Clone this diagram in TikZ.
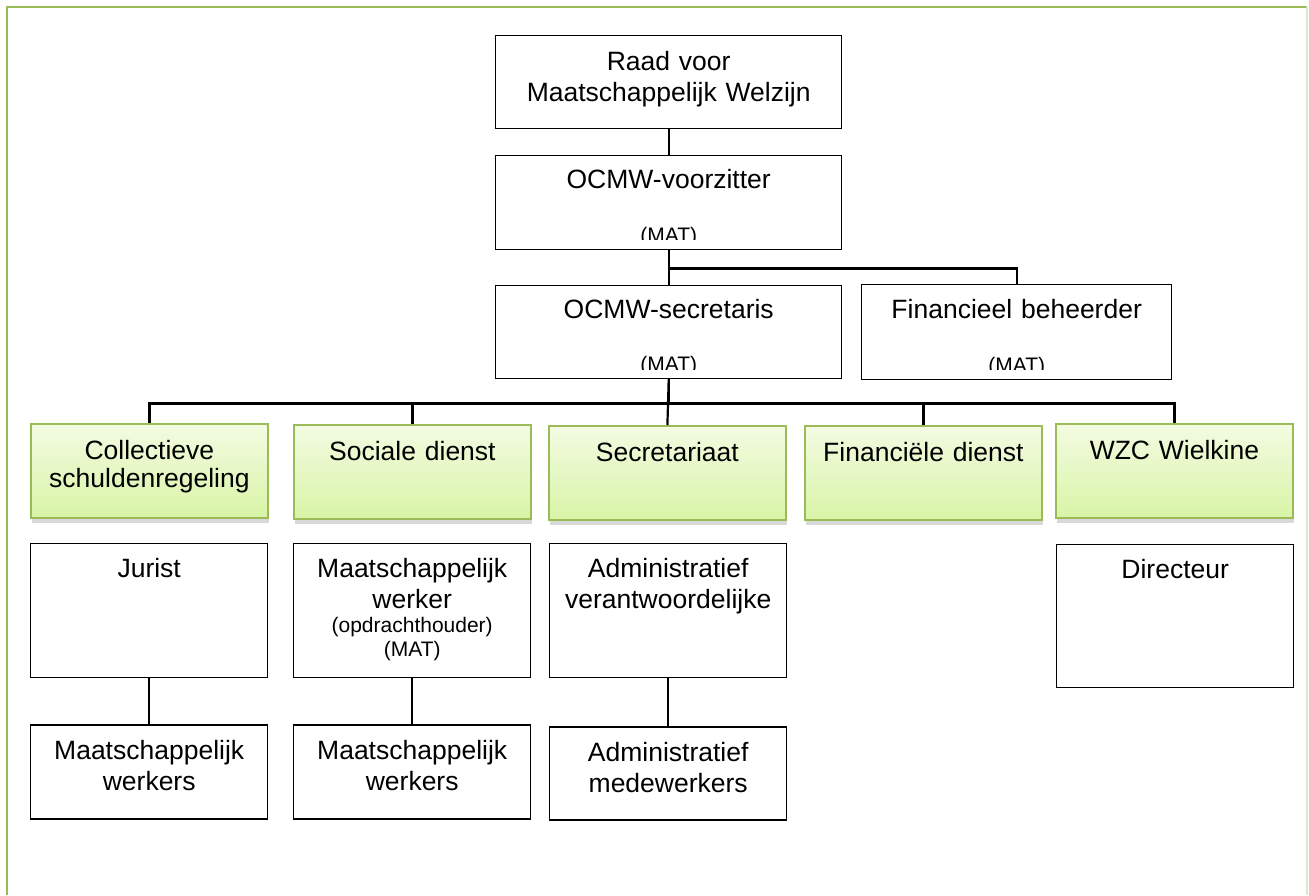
\documentclass[tikz,border=0pt]{standalone}
\usepackage{fontspec}
\setmainfont{Liberation Sans}
\usetikzlibrary{positioning,shadows}
\definecolor{frameGreen}{HTML}{9BBB59}
\definecolor{deptTop}{HTML}{F3FBE2}
\definecolor{deptBottom}{HTML}{D8F4A6}
\newcommand{\smalltext}{\fontsize{21}{24}\selectfont}

\begin{document}
\begin{tikzpicture}[x=1pt, y=-1pt, line width=2.2pt,
      every node/.append style={inner sep=0pt, align=center, font=\fontsize{26.5}{31}\selectfont},
      wide/.style={text width=346pt},
      narrow/.style={text width=237pt}]
  \tikzstyle{post} = [draw, line width=1.4pt, text height=34pt]
  \tikzstyle{dept} = [draw=frameGreen, line width=1.8pt, top color=deptTop, bottom color=deptBottom,
      text height=36pt, text depth=58pt, text width=237pt, anchor=north west,
      font=\fontsize{26.5}{28}\selectfont,
      drop shadow={shadow xshift=1pt, shadow yshift=-5pt, opacity=0.3}]
  \tikzstyle{mat} = [font=\smalltext, anchor=base]
  \tikzstyle{link} = [line width=2.2pt]
  \useasboundingbox (0,0) rectangle (1309,895);
  % frame
  \draw[frameGreen, line width=2.2pt] (7,895) -- (7,7) -- (1307,7);
  \draw[frameGreen!35, line width=1.5pt] (1307,7) -- (1307,895);
  % board
  \node (raad) [post, wide, text height=35pt, text depth=58pt, anchor=north west] at (495,35) {Raad voor\\Maatschappelijk Welzijn};
  \node (voorzitter) [post, wide, text height=33pt, text depth=61pt, anchor=north west] at (495,155) {OCMW-voorzitter};
  \node (secretaris) [post, wide, text height=33pt, text depth=60pt, anchor=north west] at (495,285) {OCMW-secretaris};
  \node (beheerder) [post, text width=310pt, text height=34pt, text depth=61pt, anchor=north west] at (861,284) {Financieel beheerder};
  \begin{scope}
    \clip ([yshift=11pt]voorzitter.south west) rectangle (voorzitter.north east);
    \node (voorzitterMat) [mat] at ([yshift=7.5pt]voorzitter.south) {(MAT)};
  \end{scope}
  \begin{scope}
    \clip ([yshift=10pt]secretaris.south west) rectangle (secretaris.north east);
    \node (secretarisMat) [mat] at ([yshift=7.5pt]secretaris.south) {(MAT)};
  \end{scope}
  \begin{scope}
    \clip ([yshift=10.5pt]beheerder.south west) rectangle (beheerder.north east);
    \node (beheerderMat) [mat] at ([yshift=7.5pt]beheerder.south) {(MAT)};
  \end{scope}
  % departments
  \node (collectief) [dept] at (30,423) {Collectieve\\schuldenregeling};
  \node (sociaal) [dept] at (293,424) {Sociale dienst};
  \node (secretariaat) [dept] at (548,425) {Secretariaat};
  \node (financieel) [dept] at (804,425) {Financiële dienst};
  \node (wzc) [dept] at (1055,423) {WZC Wielkine};
  % staff
  \node (jurist) [post, narrow, text depth=100pt, anchor=north west] at (30,543) {Jurist};
  \node (mwJurist) [post, narrow, text depth=60pt, below=46pt of jurist] {Maatschappelijk\\werkers};
  \node (mwOpdracht) [post, narrow, text depth=100pt, anchor=north west] at (293,543)
      {Maatschappelijk\\werker\par\smalltext (opdrachthouder)\\\smalltext (MAT)\par};
  \node (mwSociaal) [post, narrow, text depth=60pt, below=46pt of mwOpdracht] {Maatschappelijk\\werkers};
  \node (adminVer) [post, narrow, text depth=100pt, anchor=north west] at (549,543) {Administratief\\verantwoordelijke};
  \node (adminMed) [post, narrow, text depth=59pt, below=48pt of adminVer] {Administratief\\medewerkers};
  \node (directeur) [post, narrow, text depth=109pt, anchor=north west] at (1056,544) {Directeur};
  % connectors
  \draw[link] (raad) -- (voorzitter);
  \draw[link] (voorzitter) -- (secretaris);
  \draw[link] (voorzitter.south) -- ++(0,18) -| (beheerder.north);
  \draw[link] (secretaris.south) -- ++(0,24) -| (collectief.north);
  \draw[link] (secretaris.south) -- ++(0,24) -| (sociaal.north);
  \draw[link] (secretaris.south) -- (secretariaat.north);
  \draw[link] (secretaris.south) -- ++(0,24) -| (financieel.north);
  \draw[link] (secretaris.south) -- ++(0,24) -| (wzc.north);
  \draw[link] (jurist) -- (mwJurist);
  \draw[link] (mwOpdracht) -- (mwSociaal);
  \draw[link] (adminVer) -- (adminMed);
\end{tikzpicture}
\end{document}
